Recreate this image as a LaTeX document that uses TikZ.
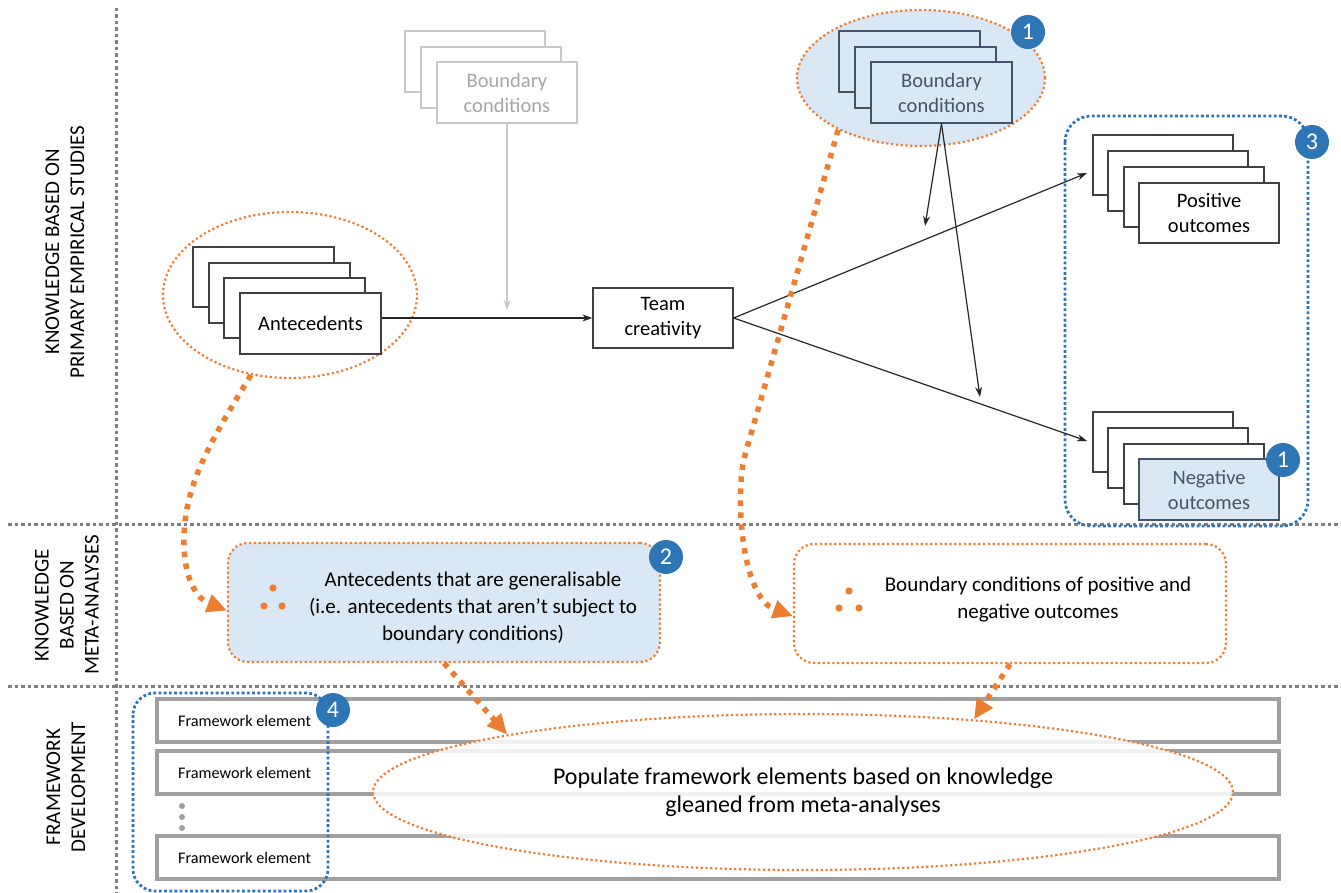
\documentclass[tikz,border=0pt]{standalone}
\usepackage{fontspec}
\setmainfont{Carlito}
\usepackage{tikz}
\usetikzlibrary{arrows.meta,shapes.geometric}

\definecolor{accent}{RGB}{237,125,49}
\definecolor{badgeblue}{RGB}{46,117,182}
\definecolor{paleblue}{RGB}{218,232,245}
\definecolor{slate}{RGB}{68,84,106}
\definecolor{boxline}{RGB}{64,64,64}
\definecolor{ghostline}{RGB}{200,200,200}
\definecolor{ghosttext}{RGB}{166,166,166}
\definecolor{rulegray}{RGB}{127,127,127}
\definecolor{rowgray}{RGB}{160,160,160}

\tikzset{
  sheet/.style={draw=boxline, fill=white, line width=1.3pt},
  ghostsheet/.style={draw=ghostline, fill=white, line width=1.3pt},
  bluesheet/.style={draw=slate, fill=paleblue, line width=1.3pt},
  card/.style={sheet, minimum width=141pt, minimum height=61pt, inner sep=0pt,
    align=center, font=\fontsize{20.5}{25}\selectfont},
  ghostcard/.style={card, draw=ghostline, text=ghosttext},
  bluecard/.style={card, draw=slate, fill=paleblue, text=slate},
  badge/.style={circle, fill=badgeblue, text=white, minimum size=34pt,
    inner sep=0pt, font=\fontsize{24}{24}\selectfont},
  orangering/.style={ellipse, draw=accent, line width=2.2pt,
    dash pattern=on 2.2pt off 2.6pt, inner sep=0pt},
  bluering/.style={draw=badgeblue, line width=2.8pt,
    dash pattern=on 2.8pt off 2.4pt, rounded corners=26pt},
  divider/.style={draw=rulegray, line width=3pt, dash pattern=on 3.5pt off 3pt},
  link/.style={draw=black!85, line width=1.2pt, -{Stealth[length=10pt,width=7pt]}},
  ghostlink/.style={draw=ghostline, line width=1.6pt, -{Stealth[length=10pt,width=7pt]}},
  jump/.style={draw=accent, line width=5.5pt, dash pattern=on 5.5pt off 6.5pt,
    -{Triangle[length=20pt,width=18pt]}},
  metabox/.style={draw=accent, line width=2.2pt, dash pattern=on 2.2pt off 2.6pt,
    rounded corners=20pt, minimum width=432pt, minimum height=119pt},
  metatext/.style={align=center, font=\fontsize{21}{27}\selectfont},
  fwrow/.style={draw=rowgray, line width=3.2pt, fill=white, minimum width=1122pt,
    minimum height=43pt, inner sep=0pt},
  fwtext/.style={anchor=west, inner sep=0pt, font=\fontsize{16.2}{16}\selectfont},
  sidelabel/.style={rotate=90, align=center, font=\fontsize{21}{25}\selectfont}
}

\begin{document}
\begin{tikzpicture}[x=1pt,y=-1pt]
      \useasboundingbox (0,0) rectangle (1341,893);
      \draw [divider] (116,8) -- (116,893);
      \draw [divider] (8,524) -- (1341,524);
      \draw [divider] (8,686) -- (1341,686);
      \node [sidelabel] (primlabel) at (65,252) {KNOWLEDGE BASED ON\\PRIMARY EMPIRICAL STUDIES};
      \node [sidelabel] (metalabel) at (67,605) {KNOWLEDGE\\BASED ON\\META-ANALYSES};
      \node [sidelabel] (devlabel) at (66,787) {FRAMEWORK\\DEVELOPMENT};
      \begin{scope}[shift={(405,31)}]
        \draw [ghostsheet] (0,0) rectangle (140,61);
        \draw [ghostsheet] (16,16) rectangle (156,77);
      \end{scope}
      \node [ghostcard, minimum width=140pt] (ghostfront) at (507,92.5) {Boundary\\conditions};
      \node [orangering, minimum width=254pt, minimum height=166pt] (aring) at (290,295) {};
      \begin{scope}[shift={(193,247)}]
        \draw [sheet] (0,0) rectangle (141,60);
        \draw [sheet] (16,16) rectangle (157,76);
        \draw [sheet] (31,31) rectangle (172,91);
      \end{scope}
      \node [card] (ante) at (310.5,323.5) {Antecedents};
      \node [card, minimum width=140pt, minimum height=60pt] (team) at (663,318) {Team\\creativity};
      \node [orangering, fill=paleblue, minimum width=248pt, minimum height=136pt] (bcring) at (921,78) {};
      \begin{scope}[shift={(839,31)}]
        \draw [bluesheet] (0,0) rectangle (141,61);
        \draw [bluesheet] (16,16) rectangle (157,77);
      \end{scope}
      \node [bluecard] (bcfront) at (941.5,92.5) {Boundary\\conditions};
      \node [badge] (b1top) at (1028,32) {1};
      \begin{scope}[shift={(1093,135)}]
        \draw [sheet] (0,0) rectangle (140,60);
        \draw [sheet] (15,16) rectangle (155,76);
        \draw [sheet] (31,32) rectangle (171,92);
      \end{scope}
      \node [card, minimum width=140pt, minimum height=60pt] (pos) at (1209,213) {Positive\\outcomes};
      \begin{scope}[shift={(1093,412)}]
        \draw [sheet] (0,0) rectangle (140,60);
        \draw [sheet] (15,16) rectangle (155,76);
        \draw [sheet] (31,32) rectangle (171,92);
      \end{scope}
      \node [bluecard, minimum width=140pt] (neg) at (1209,489.5) {Negative\\outcomes};
      \draw [bluering] (1065,116) rectangle (1308,526);
      \node [badge] (b3) at (1312,142) {3};
      \node [badge] (b1neg) at (1283,460) {1};
      \coordinate (posin) at (1087,173);
      \coordinate (negin) at (1087,441);
      \coordinate (mod1) at (925,226);
      \coordinate (mod2) at (980,397);
      \draw [ghostlink] (ghostfront.south) -- ([yshift=8pt]ghostfront.south |- team.west);
      \draw [link] (ante.east |- team.west) -- (team.west);
      \draw [link] (team.east) -- (posin);
      \draw [link] (team.east) -- (negin);
      \draw [link] (bcfront.south) -- (mod1);
      \draw [link] (bcfront.south) -- (mod2);
      \node [metabox, fill=paleblue] (meta2) at (444,602.5) {};
      \node [metatext] (meta2text) at (473,608) {Antecedents that are generalisable\\(i.e. antecedents that aren’t subject to\\boundary conditions)};
      \fill [accent] (273,588) circle [radius=3.6];
      \fill [accent] (264,606) circle [radius=3.6];
      \fill [accent] (282,606) circle [radius=3.6];
      \node [badge] (b2) at (666,557) {2};
      \node [metabox, fill=white] (meta3) at (1010,603.5) {};
      \node [metatext] (meta3text) at (1038,600) {Boundary conditions of positive and\\negative outcomes};
      \fill [accent] (849,591) circle [radius=3.6];
      \fill [accent] (839,608) circle [radius=3.6];
      \fill [accent] (859,608) circle [radius=3.6];
      \node [fwrow] (row1) at (718,720.5) {};
      \node [fwrow] (row2) at (718,772.5) {};
      \node [fwrow] (row3) at (718,857.5) {};
      \node [fwtext] (row1text) at (178,720.5) {Framework element};
      \node [fwtext] (row2text) at (178,772.5) {Framework element};
      \node [fwtext] (row3text) at (178,857.5) {Framework element};
      \fill [rowgray] (182,806) circle [radius=3];
      \fill [rowgray] (182,817) circle [radius=3];
      \fill [rowgray] (182,828) circle [radius=3];
      \node [orangering, fill=white, fill opacity=0.85, minimum width=860pt, minimum height=156pt] (popring) at (803,792) {};
      \node [align=center, font=\fontsize{24}{28}\selectfont] (poptext) at (803,792) {Populate framework elements based on knowledge\\gleaned from meta-analyses};
      \draw [bluering, rounded corners=22pt] (133,693) rectangle (328,891);
      \node [badge] (b4) at (333,710) {4};
      \draw [jump] (aring.244) .. controls (205,450) and (183,490) .. (184,545)
        .. controls (185,585) and (200,600) .. ([yshift=-8pt]meta2.west);
      \draw [jump] (bcring.212) -- (745,455) .. controls (735,490) and (740,597) .. ([yshift=-12.5pt]meta3.west);
      \draw [jump] (meta2.south) -- (popring.169);
      \draw [jump] (meta3.south) -- (popring.23);
    \end{tikzpicture}
\end{document}
